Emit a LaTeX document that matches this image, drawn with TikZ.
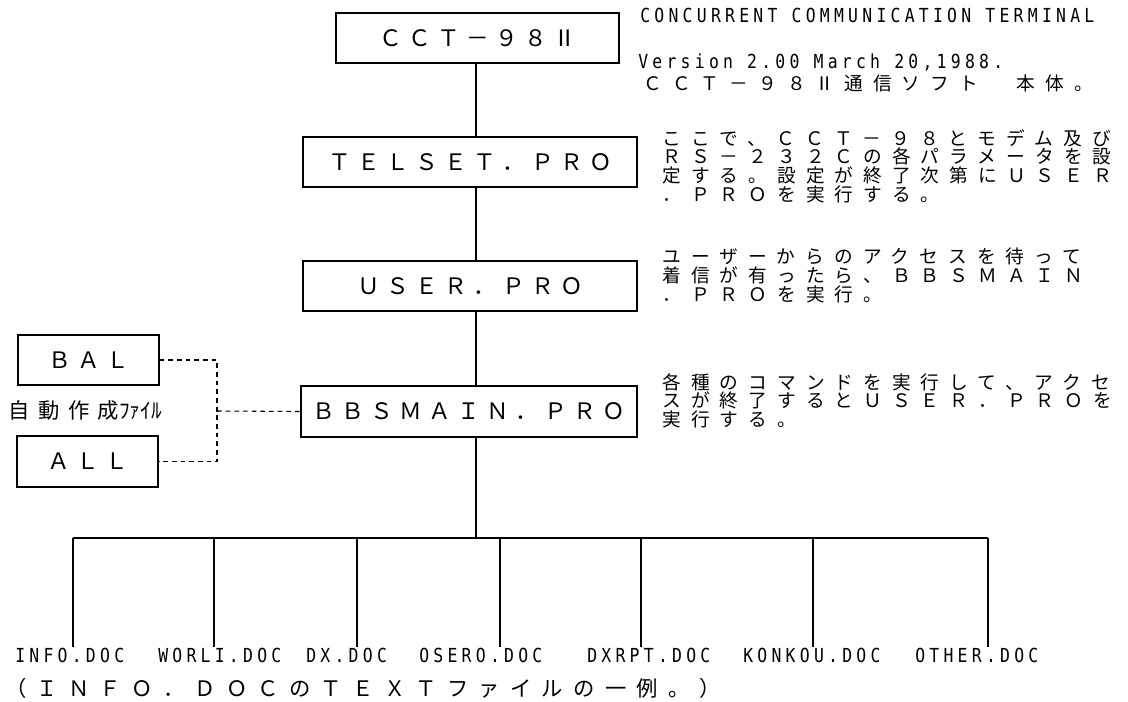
\documentclass[tikz,border=0pt]{standalone}
\usepackage{fontspec}
\usetikzlibrary{positioning}
\newfontfamily\jpfont[LetterSpace=54]{Noto Sans CJK JP}
\newfontfamily\jpboxfont[LetterSpace=28]{Noto Sans CJK JP}
\newfontfamily\jpcapfont[LetterSpace=48]{Noto Sans CJK JP}
\newfontfamily\jplabelfont[LetterSpace=40]{Noto Sans CJK JP}
\newfontfamily\jphalffont{Noto Sans CJK JP}
\newfontfamily\docfont[FakeStretch=0.85, LetterSpace=22]{DejaVu Sans Mono}

\begin{document}
\begin{tikzpicture}[x=0.75pt, y=-0.75pt]
        \tikzstyle{prog} = [rectangle, draw=black, line width=1pt, inner sep=0pt, minimum height=37.5pt, text centered, font=\fontsize{17}{17}\selectfont\jpboxfont]
        \tikzstyle{note} = [anchor=north west, align=left, inner sep=0pt, font=\fontsize{14}{14}\selectfont\jpfont]
        \tikzstyle{doc} = [anchor=west, inner sep=0pt, font=\fontsize{14.5}{14}\selectfont\docfont]
        \tikzstyle{link} = [line width=1pt]
        \tikzstyle{autolink} = [line width=0.8pt, dash pattern=on 3.5pt off 3pt]
        \useasboundingbox (0,0) rectangle (1128,702);

        % program chain
        \node (cct) [prog, minimum width=212.25pt] at (477.5,38) {ＣＣＴ－９８Ⅱ};
        \node (telset) [prog, minimum width=250.5pt] at (470,162) {ＴＥＬＳＥＴ．ＰＲＯ};
        \node (user) [prog, minimum width=250.5pt] at (470,286) {ＵＳＥＲ．ＰＲＯ};
        \node (bbsmain) [prog, minimum width=252pt, minimum height=38.25pt] at (469,411.5) {ＢＢＳＭＡＩＮ．ＰＲＯ};

        % notes on the right
        \node (title) [doc] at (640,15) {CONCURRENT COMMUNICATION TERMINAL};
        \node (version) [doc] at (638,63) {Version 2.00 March 20,1988.};
        \node (cctnote) [note, anchor=west] at (643,83) {ＣＣＴ－９８Ⅱ通信ソフト　本体。};
        \node (telsetnote) [note] at (662,129) {ここで、ＣＣＴ－９８とモデム及び\\ＲＳ－２３２Ｃの各パラメータを設\\定する。設定が終了次第にＵＳＥＲ\\．ＰＲＯを実行する。};
        \node (usernote) [note] at (662,248) {ユーザーからのアクセスを待って\\着信が有ったら、ＢＢＳＭＡＩＮ\\．ＰＲＯを実行。};
        \node (bbsmainnote) [note] at (662,373) {各種のコマンドを実行して、アクセ\\スが終了するとＵＳＥＲ．ＰＲＯを\\実行する。};

        % generated files
        \node (bal) [prog, minimum width=105.75pt] at (88.5,360) {ＢＡＬ};
        \node (all) [prog, minimum width=105.75pt, minimum height=38.25pt] at (87.5,461.5) {ＡＬＬ};
        \node (autolabel) [anchor=west, inner sep=0pt, font=\fontsize{16}{16}\selectfont] at (8,410) {{\jplabelfont 自動作成}{\jphalffont ﾌｧｲﾙ}};
        \coordinate (autojoin) at (217,411);
        \draw [autolink] (bal.east) -| (autojoin) |- (all.east);
        \draw [autolink] (autojoin) -- (bbsmain.west);

        % trunk
        \coordinate (trunk) at (476,0);
        \draw [link] (cct.south -| trunk) -- (telset.north -| trunk);
        \draw [link] (telset.south -| trunk) -- (user.north -| trunk);
        \draw [link] (user.south -| trunk) -- (bbsmain.north -| trunk);
        \coordinate (busl) at (73,538);
        \coordinate (busr) at (988,538);
        \draw [link] (bbsmain.south -| trunk) -- (trunk |- busl);
        \draw [link] (busl) -- (busr);

        % doc files
        \foreach \name/\txt/\lx/\dx in {info/INFO.DOC/15/73, worli/WORLI.DOC/158/214, dx/DX.DOC/306/357, osero/OSERO.DOC/419/500, dxrpt/DXRPT.DOC/587/641, konkou/KONKOU.DOC/743/813, other/OTHER.DOC/915/988}{
            \node (\name) [doc] at (\lx,655) {\txt};
            \coordinate (drop-\name) at (\dx,538);
            \draw [link] (drop-\name) -- (drop-\name |- \name.north);
        }

        \node (caption) [anchor=west, inner sep=0pt, font=\fontsize{16}{16}\selectfont\jpcapfont] at (5,688) {（ＩＮＦＯ．ＤＯＣのＴＥＸＴファイルの一例。）};
    \end{tikzpicture}
\end{document}
